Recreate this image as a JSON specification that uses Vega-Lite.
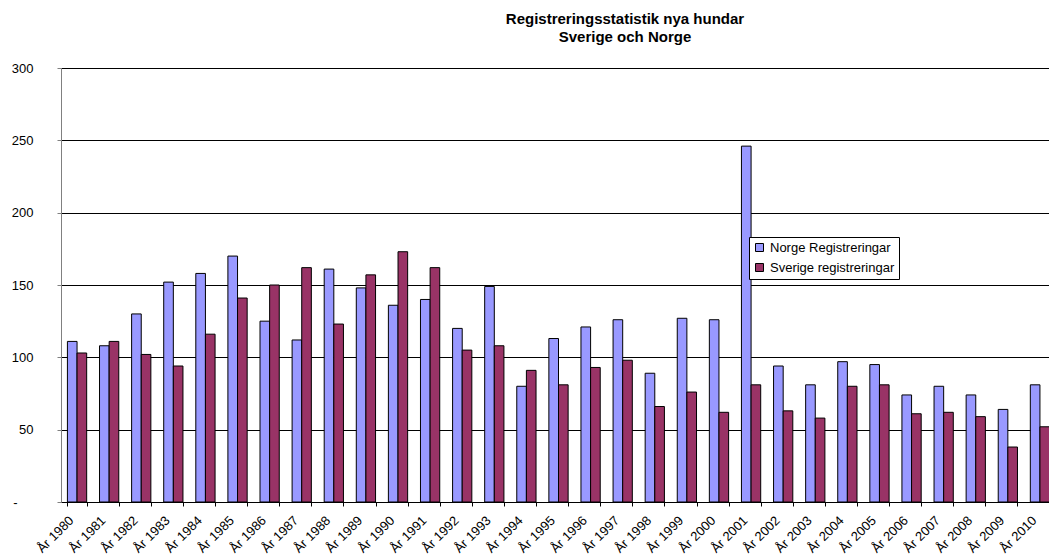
{
  "$schema": "https://vega.github.io/schema/vega-lite/v6.json",
  "width": 988,
  "height": 434,
  "autosize": {"type": "none"},
  "padding": {"left": 61, "top": 68, "right": 0, "bottom": 56},
  "background": "white",
  "title": {
    "text": ["Registreringsstatistik nya hundar", "Sverige och Norge"],
    "font": "Liberation Sans",
    "fontSize": 15,
    "fontWeight": "bold",
    "color": "#000",
    "anchor": "middle",
    "frame": "group",
    "dx": 70,
    "baseline": "bottom",
    "lineHeight": 18,
    "offset": 2
  },
  "datasets": {
    "reg": [
      {"year": "År 1980", "serie": "Norge Registreringar", "value": 111},
      {"year": "År 1980", "serie": "Sverige registreringar", "value": 103},
      {"year": "År 1981", "serie": "Norge Registreringar", "value": 108},
      {"year": "År 1981", "serie": "Sverige registreringar", "value": 111},
      {"year": "År 1982", "serie": "Norge Registreringar", "value": 130},
      {"year": "År 1982", "serie": "Sverige registreringar", "value": 102},
      {"year": "År 1983", "serie": "Norge Registreringar", "value": 152},
      {"year": "År 1983", "serie": "Sverige registreringar", "value": 94},
      {"year": "År 1984", "serie": "Norge Registreringar", "value": 158},
      {"year": "År 1984", "serie": "Sverige registreringar", "value": 116},
      {"year": "År 1985", "serie": "Norge Registreringar", "value": 170},
      {"year": "År 1985", "serie": "Sverige registreringar", "value": 141},
      {"year": "År 1986", "serie": "Norge Registreringar", "value": 125},
      {"year": "År 1986", "serie": "Sverige registreringar", "value": 150},
      {"year": "År 1987", "serie": "Norge Registreringar", "value": 112},
      {"year": "År 1987", "serie": "Sverige registreringar", "value": 162},
      {"year": "År 1988", "serie": "Norge Registreringar", "value": 161},
      {"year": "År 1988", "serie": "Sverige registreringar", "value": 123},
      {"year": "År 1989", "serie": "Norge Registreringar", "value": 148},
      {"year": "År 1989", "serie": "Sverige registreringar", "value": 157},
      {"year": "År 1990", "serie": "Norge Registreringar", "value": 136},
      {"year": "År 1990", "serie": "Sverige registreringar", "value": 173},
      {"year": "År 1991", "serie": "Norge Registreringar", "value": 140},
      {"year": "År 1991", "serie": "Sverige registreringar", "value": 162},
      {"year": "År 1992", "serie": "Norge Registreringar", "value": 120},
      {"year": "År 1992", "serie": "Sverige registreringar", "value": 105},
      {"year": "År 1993", "serie": "Norge Registreringar", "value": 149},
      {"year": "År 1993", "serie": "Sverige registreringar", "value": 108},
      {"year": "År 1994", "serie": "Norge Registreringar", "value": 80},
      {"year": "År 1994", "serie": "Sverige registreringar", "value": 91},
      {"year": "År 1995", "serie": "Norge Registreringar", "value": 113},
      {"year": "År 1995", "serie": "Sverige registreringar", "value": 81},
      {"year": "År 1996", "serie": "Norge Registreringar", "value": 121},
      {"year": "År 1996", "serie": "Sverige registreringar", "value": 93},
      {"year": "År 1997", "serie": "Norge Registreringar", "value": 126},
      {"year": "År 1997", "serie": "Sverige registreringar", "value": 98},
      {"year": "År 1998", "serie": "Norge Registreringar", "value": 89},
      {"year": "År 1998", "serie": "Sverige registreringar", "value": 66},
      {"year": "År 1999", "serie": "Norge Registreringar", "value": 127},
      {"year": "År 1999", "serie": "Sverige registreringar", "value": 76},
      {"year": "År 2000", "serie": "Norge Registreringar", "value": 126},
      {"year": "År 2000", "serie": "Sverige registreringar", "value": 62},
      {"year": "År 2001", "serie": "Norge Registreringar", "value": 246},
      {"year": "År 2001", "serie": "Sverige registreringar", "value": 81},
      {"year": "År 2002", "serie": "Norge Registreringar", "value": 94},
      {"year": "År 2002", "serie": "Sverige registreringar", "value": 63},
      {"year": "År 2003", "serie": "Norge Registreringar", "value": 81},
      {"year": "År 2003", "serie": "Sverige registreringar", "value": 58},
      {"year": "År 2004", "serie": "Norge Registreringar", "value": 97},
      {"year": "År 2004", "serie": "Sverige registreringar", "value": 80},
      {"year": "År 2005", "serie": "Norge Registreringar", "value": 95},
      {"year": "År 2005", "serie": "Sverige registreringar", "value": 81},
      {"year": "År 2006", "serie": "Norge Registreringar", "value": 74},
      {"year": "År 2006", "serie": "Sverige registreringar", "value": 61},
      {"year": "År 2007", "serie": "Norge Registreringar", "value": 80},
      {"year": "År 2007", "serie": "Sverige registreringar", "value": 62},
      {"year": "År 2008", "serie": "Norge Registreringar", "value": 74},
      {"year": "År 2008", "serie": "Sverige registreringar", "value": 59},
      {"year": "År 2009", "serie": "Norge Registreringar", "value": 64},
      {"year": "År 2009", "serie": "Sverige registreringar", "value": 38},
      {"year": "År 2010", "serie": "Norge Registreringar", "value": 81},
      {"year": "År 2010", "serie": "Sverige registreringar", "value": 52}
    ]
  },
  "data": {"name": "reg"},
  "mark": {"type": "bar", "stroke": "#000", "strokeWidth": 1},
  "encoding": {
    "x": {
      "field": "year",
      "type": "nominal",
      "sort": null,
      "scale": {"paddingInner": 0.4, "paddingOuter": 0.2, "range": [0, 995]},
      "axis": {
        "title": null,
        "labelAngle": -45,
        "labelAlign": "right",
        "labelBaseline": "middle",
        "labelFont": "Liberation Sans",
        "labelFontSize": 13,
        "labelColor": "#000",
        "labelPadding": 12,
        "labelOffset": -6,
        "tickBand": "extent",
        "tickSize": 4,
        "tickColor": "#000",
        "domainColor": "#000",
        "grid": false,
        "labelOverlap": false
      }
    },
    "xOffset": {"field": "serie", "sort": ["Norge Registreringar", "Sverige registreringar"]},
    "y": {
      "field": "value",
      "type": "quantitative",
      "scale": {"domain": [0, 300], "nice": false},
      "axis": {
        "title": null,
        "values": [0, 50, 100, 150, 200, 250, 300],
        "labelExpr": "datum.value == 0 ? '-' : datum.label",
        "labelFont": "Liberation Sans",
        "labelFontSize": 13,
        "labelColor": "#000",
        "labelPadding": {"condition": {"test": "datum.value == 0", "value": 40}, "value": 24},
        "tickSize": 4,
        "tickColor": "#808080",
        "domainColor": "#808080",
        "grid": true,
        "gridColor": "#000",
        "gridWidth": 1
      }
    },
    "color": {
      "field": "serie",
      "type": "nominal",
      "scale": {"domain": ["Norge Registreringar", "Sverige registreringar"], "range": ["#9999FF", "#993366"]},
      "legend": {
        "title": null,
        "orient": "none",
        "legendX": 688,
        "legendY": 169,
        "strokeColor": "#000",
        "fillColor": "#fff",
        "padding": 4,
        "symbolType": "square",
        "symbolSize": 64,
        "symbolStrokeColor": "#000",
        "symbolStrokeWidth": 1,
        "symbolOpacity": 1,
        "labelFont": "Liberation Sans",
        "labelFontSize": 13,
        "labelColor": "#000",
        "labelOffset": 4,
        "rowPadding": 6
      }
    }
  },
  "config": {"view": {"stroke": null}}
}
